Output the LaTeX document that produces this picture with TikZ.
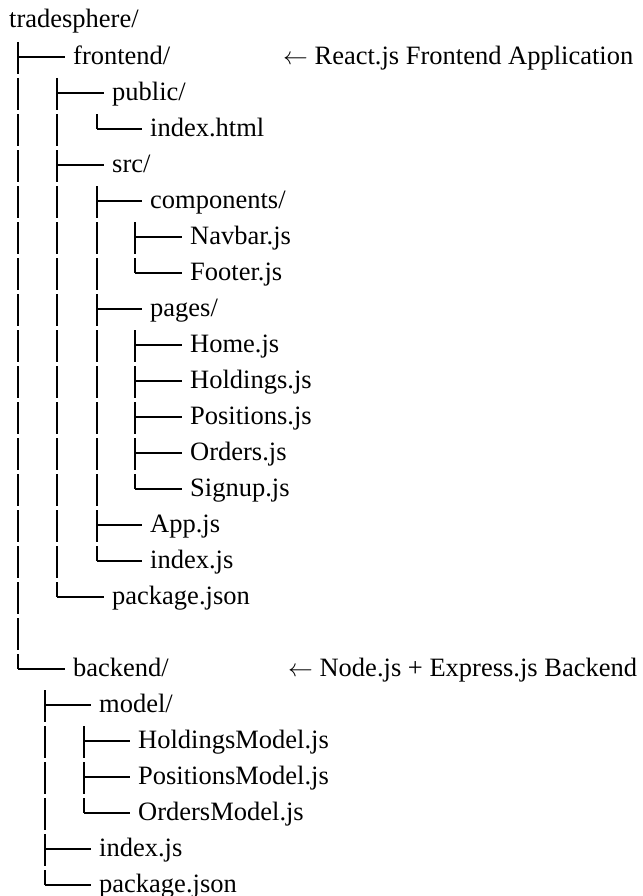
\documentclass[tikz,border=0pt]{standalone}
\usepackage{fontspec}
\setmainfont{Liberation Serif}
\usetikzlibrary{positioning,calc}
\tikzset{
  entry/.style={anchor=west, inner xsep=8bp, inner ysep=0pt, text height=18bp, text depth=4bp,
                font=\fontsize{26.6}{30}\selectfont},
  note/.style={entry, inner xsep=0pt},
  tick/.style={line width=1.8bp},
  rail/.style={line width=1.8bp, dash pattern=on 32bp off 4bp},
}

\begin{document}
\begin{tikzpicture}[x=1bp, y=-36bp]
  \useasboundingbox (0,-0.5833) rectangle (643,24.3056);
  % one row per entry
  \node[entry] (root) at (1,0) {tradesphere/};
  \node[entry] (fe) at (65,1) {frontend/};
  \node[entry] (pub) at (104,2) {public/};
  \node[entry] (html) at (142,3) {index.html};
  \node[entry] (src) at (104,4) {src/};
  \node[entry] (comp) at (142,5) {components/};
  \node[entry] (nav) at (182,6) {Navbar.js};
  \node[entry] (foot) at (182,7) {Footer.js};
  \node[entry] (pages) at (142,8) {pages/};
  \node[entry] (home) at (182,9) {Home.js};
  \node[entry] (hold) at (182,10) {Holdings.js};
  \node[entry] (pos) at (182,11) {Positions.js};
  \node[entry] (ord) at (182,12) {Orders.js};
  \node[entry] (sign) at (182,13) {Signup.js};
  \node[entry] (app) at (142,14) {App.js};
  \node[entry] (feidx) at (142,15) {index.js};
  \node[entry] (fepkg) at (104,16) {package.json};
  \node[entry] (be) at (65,18) {backend/};
  \node[entry] (model) at (91,19) {model/};
  \node[entry] (hm) at (130,20) {HoldingsModel.js};
  \node[entry] (pm) at (130,21) {PositionsModel.js};
  \node[entry] (om) at (130,22) {OrdersModel.js};
  \node[entry] (beidx) at (91,23) {index.js};
  \node[entry] (bepkg) at (91,24) {package.json};
  \node[note] (fenote) at (283,1) {$\leftarrow$ React.js Frontend Application};
  \node[note] (benote) at (288,18) {$\leftarrow$ Node.js + Express.js Backend};
  % rail x per folder
  \coordinate (rroot) at (18,0);
  \coordinate (rfe) at (57,0);
  \coordinate (rpub) at (97,0);
  \coordinate (rsrc) at (97,0);
  \coordinate (rcomp) at (135,0);
  \coordinate (rpages) at (135,0);
  \coordinate (rbe) at (45,0);
  \coordinate (rmodel) at (84,0);
  % rails
  \draw[rail] ($(rroot |- fe.west)+(0,15bp)$) -- (rroot |- be.west);
  \draw[rail] ($(rfe |- pub.west)+(0,15bp)$) -- (rfe |- fepkg.west);
  \draw[rail] ($(rpub |- html.west)+(0,15bp)$) -- (rpub |- html.west);
  \draw[rail] ($(rsrc |- comp.west)+(0,15bp)$) -- (rsrc |- feidx.west);
  \draw[rail] ($(rcomp |- nav.west)+(0,15bp)$) -- (rcomp |- foot.west);
  \draw[rail] ($(rpages |- home.west)+(0,15bp)$) -- (rpages |- sign.west);
  \draw[rail] ($(rbe |- model.west)+(0,15bp)$) -- (rbe |- bepkg.west);
  \draw[rail] ($(rmodel |- hm.west)+(0,15bp)$) -- (rmodel |- om.west);
  % ticks
  \draw[tick] (rroot |- fe.west) -- (fe.west) (rroot |- be.west) -- (be.west);
  \draw[tick] (rfe |- pub.west) -- (pub.west) (rfe |- src.west) -- (src.west)
              (rfe |- fepkg.west) -- (fepkg.west);
  \draw[tick] (rpub |- html.west) -- (html.west);
  \draw[tick] (rsrc |- comp.west) -- (comp.west) (rsrc |- pages.west) -- (pages.west)
              (rsrc |- app.west) -- (app.west) (rsrc |- feidx.west) -- (feidx.west);
  \draw[tick] (rcomp |- nav.west) -- (nav.west) (rcomp |- foot.west) -- (foot.west);
  \draw[tick] (rpages |- home.west) -- (home.west) (rpages |- hold.west) -- (hold.west)
              (rpages |- pos.west) -- (pos.west) (rpages |- ord.west) -- (ord.west)
              (rpages |- sign.west) -- (sign.west);
  \draw[tick] (rbe |- model.west) -- (model.west) (rbe |- beidx.west) -- (beidx.west)
              (rbe |- bepkg.west) -- (bepkg.west);
  \draw[tick] (rmodel |- hm.west) -- (hm.west) (rmodel |- pm.west) -- (pm.west)
              (rmodel |- om.west) -- (om.west);
\end{tikzpicture}
\end{document}
